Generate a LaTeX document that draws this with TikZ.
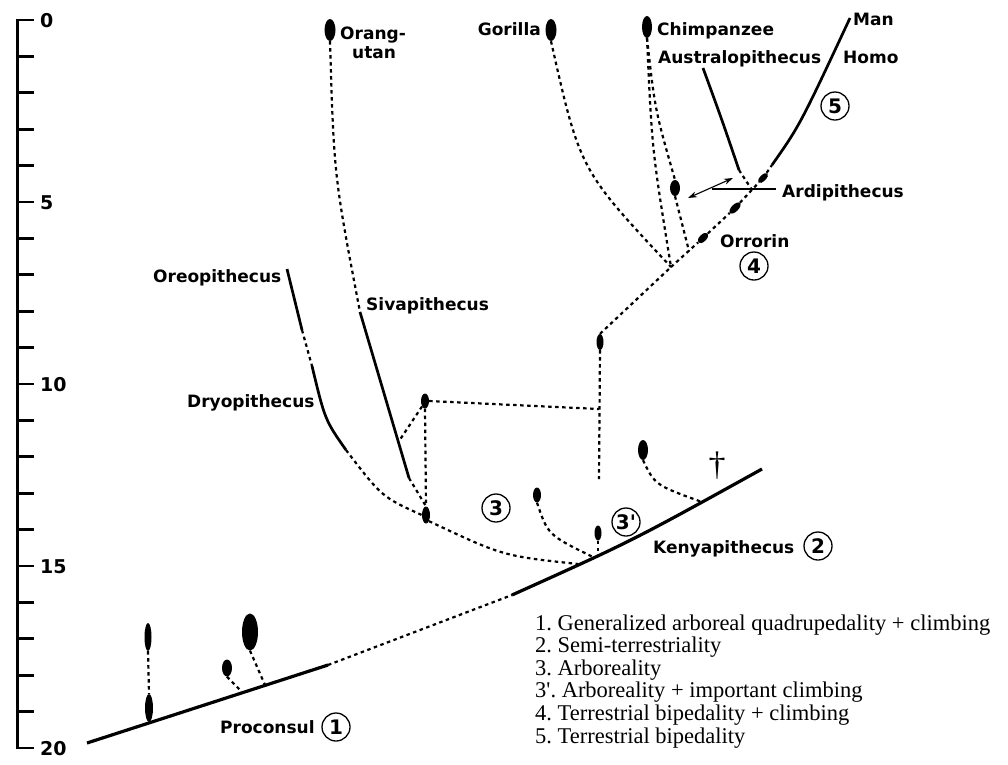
\documentclass[tikz,border=0pt]{standalone}
\usepackage{fontspec}
\setmainfont{Liberation Serif}
\newfontfamily\labfont{DejaVu Sans}
\usetikzlibrary{arrows.meta,shapes.geometric}
\frenchspacing
\begin{document}
\begin{tikzpicture}[x=1pt,y=-1pt,
  lab/.style={font=\labfont\bfseries\fontsize{17}{18}\selectfont, inner sep=0pt, anchor=base west},
  axlab/.style={font=\labfont\bfseries\fontsize{19}{20}\selectfont, inner sep=0pt, anchor=base west},
  num/.style={circle, draw, line width=1.3pt, minimum size=28pt, inner sep=0pt, font=\labfont\bfseries\fontsize{20}{20}\selectfont},
  oval/.style={ellipse, fill=black, draw=none, inner sep=0pt},
  dots/.style={line width=2.2pt, dash pattern=on 3.5pt off 3.5pt},
  lineage/.style={line width=2.7pt},
  stemline/.style={line width=3.2pt},
  axisl/.style={line width=2.8pt},
  legend/.style={font=\fontsize{22.5}{22}\selectfont, inner sep=0pt, anchor=base west},
]
\useasboundingbox (0,0) rectangle (1008,764);

% ---------- time axis ----------
\draw[axisl] (34,20) -- (17.5,20) -- (17.5,748) -- (34,748);
\foreach \t in {1,...,19} \draw[axisl] (17.5,{20+36.4*\t}) -- (34,{20+36.4*\t});
\node[axlab] (t0) at (40,27) {0};
\node[axlab] (t5) at (40,{27+36.4*5}) {5};
\node[axlab] (t10) at (40,{27+36.4*10}) {10};
\node[axlab] (t15) at (40,{27+36.4*15}) {15};
\node[axlab] (t20) at (40,755) {20};

% ---------- main stem ----------
\coordinate (s0) at (87,743);
\coordinate (s1) at (328,665);
\coordinate (s2) at (512,595);
\coordinate (s3) at (762,469);
\draw[stemline] (s0) -- (s1);
\draw[dots] (s1) -- (s2);
\draw[stemline] (s2) .. controls (632,541) .. (s3);

\coordinate (pC) at (242,692);
\coordinate (pD) at (265,685);
\coordinate (pDry) at (578,564);
\coordinate (p3) at (593,557);
\coordinate (p3p) at (598,555);
\coordinate (pDag) at (702,502);

% ---------- Proconsul group ----------
\node[oval, minimum width=7pt, minimum height=28pt] (oA) at (148,637) {};
\node[oval, minimum width=8pt, minimum height=28pt] (oB) at (149,708) {};
\node[oval, minimum width=10pt, minimum height=17pt] (oC) at (227,668) {};
\node[oval, minimum width=16pt, minimum height=37pt] (oD) at (250,632) {};
\draw[dots] (oA.south) -- (oB.north);
\draw[dots] (oC.south) -- (pC);
\draw[dots] (oD.south) -- (pD);
\node[lab] (proconsul) at (220,733) {Proconsul};
\node[num] (c1) at (336,727) {1};

% ---------- Kenyapithecus group ----------
\node[lab] (kenya) at (653,553) {Kenyapithecus};
\node[num] (c2) at (818,546) {2};
\node[oval, minimum width=8pt, minimum height=15pt] (o3) at (537,495) {};
\draw[dots] (o3.south) .. controls (548,535) .. (p3);
\node[oval, minimum width=7pt, minimum height=15pt] (o3p) at (598,533) {};
\draw[dots] (o3p.south) -- (p3p);
\node[oval, minimum width=10pt, minimum height=20pt] (oDag) at (643,450) {};
\draw[dots] (oDag.south) .. controls (655,485) .. (pDag);
\node[font=\fontsize{34}{34}\selectfont, inner sep=0pt] (dag) at (717,466) {\dag};
\node[num] (c3) at (496,508) {3};
\node[num] (c3p) at (626,522) {3\textquotesingle};

% ---------- Dryopithecus / Sivapithecus ----------
\node[oval, minimum width=8pt, minimum height=17pt] (oLow) at (426,515) {};
\node[oval, minimum width=8pt, minimum height=15pt] (oUp) at (425,401) {};
\coordinate (or1) at (287,269);
\coordinate (or2) at (302,330);
\coordinate (or3) at (312,366);
\coordinate (or4) at (346,450);
\draw[lineage] (or1) -- (or2);
\draw[dots] (or2) -- (or3);
\draw[lineage] (or3) .. controls (325,420) .. (or4);
\draw[dots] (or4) .. controls (382,497) .. (oLow.west);
\draw[dots] (oLow.south east) .. controls (503,556) .. (pDry);
\node[lab] (oreo) at (153,282) {Oreopithecus};
\node[lab] (dryo) at (187,407) {Dryopithecus};

\node[oval, minimum width=11pt, minimum height=22pt] (oOr) at (330,30) {};
\coordinate (sv1) at (360,312);
\coordinate (sv2) at (409,478);
\coordinate (svj) at (399,441);
\draw[dots] (oOr.south) .. controls (334,176) .. (sv1);
\draw[lineage] (sv1) -- (sv2);
\draw[dots] (sv2) -- (oLow.north);
\draw[dots] (oUp.south) -- (oLow.north);
\draw[dots] (oUp.south west) -- (svj);
\node[lab] (orang1) at (340,39) {Orang-};
\node[lab] (orang2) at (352,58) {utan};
\node[lab] (siva) at (366,310) {Sivapithecus};

% ---------- link to African branch ----------
\node[oval, minimum width=7pt, minimum height=16pt] (o86) at (600,342) {};
\coordinate (vj) at (599,409);
\coordinate (vb) at (599,479);
\draw[dots] (oUp.east) -- (vj);
\draw[dots] (o86.south) -- (vb);
\coordinate (J) at (671,267);
\draw[dots] (o86.north) -- (J);

% ---------- great apes and hominins ----------
\node[oval, minimum width=11pt, minimum height=22pt] (oGor) at (551,30) {};
\node[lab, anchor=base east] (gorilla) at (541,35) {Gorilla};
\draw[dots] (oGor.south) .. controls (580,170) .. (J);

\node[oval, minimum width=10pt, minimum height=22pt] (oCh) at (647,27) {};
\node[lab] (chimp) at (657,35) {Chimpanzee};
\node[oval, minimum width=10pt, minimum height=16pt] (oArdi) at (675,188) {};
\coordinate (aj) at (689,251);
\draw[dots] (oCh.south) .. controls (652,150) .. (J);
\draw[dots] (oCh.south) .. controls (655,110) .. (oArdi.north);
\draw[dots] (oArdi.south) -- (aj);

\node[oval, minimum width=7pt, minimum height=13pt, rotate=-45] (oOrr) at (703,238) {};
\node[oval, minimum width=7pt, minimum height=14pt, rotate=-45] (oH1) at (735,208) {};
\node[oval, minimum width=6pt, minimum height=13pt, rotate=-45] (oH2) at (763,178) {};
\coordinate (h0) at (772,165);
\coordinate (man) at (850,18);
\draw[dots] (J) -- (oOrr);
\draw[dots] (oOrr) -- (oH1);
\draw[dots] (oH1) -- (oH2);
\draw[dots] (oH2) -- (h0);
\draw[lineage] (h0) .. controls (800,125) .. (man);

\coordinate (au0) at (703,68);
\coordinate (au1) at (739,170);
\coordinate (au2) at (752,190);
\draw[lineage] (au0) .. controls (722,120) .. (au1);
\draw[dots] (au1) -- (au2);

\coordinate (ar0) at (712,189);
\coordinate (ar1) at (776,189);
\draw[line width=1.1pt] (ar0) -- (ar1);
\coordinate (aa) at (688,198);
\coordinate (ab) at (733,178);
\draw[line width=1.1pt, {Stealth[length=9pt,width=6pt]}-{Stealth[length=9pt,width=6pt]}] (aa) -- (ab);

\node[lab] (manl) at (853,25) {Man};
\node[lab] (austr) at (658,63) {Australopithecus};
\node[lab] (homo) at (843,63) {Homo};
\node[num] (c5) at (835,106) {5};
\node[lab] (ardi) at (782,197) {Ardipithecus};
\node[lab] (orrorin) at (720,247) {Orrorin};
\node[num] (c4) at (754,266) {4};

% ---------- legend ----------
\node[legend] (l1) at (535,630) {1. Generalized arboreal quadrupedality + climbing};
\node[legend] (l2) at (535,652.6) {2. Semi-terrestriality};
\node[legend] (l3) at (535,675.2) {3. Arboreality};
\node[legend] (l4) at (535,697.8) {3\textquotesingle. Arboreality + important climbing};
\node[legend] (l5) at (535,720.4) {4. Terrestrial bipedality + climbing};
\node[legend] (l6) at (535,743) {5. Terrestrial bipedality};
\end{tikzpicture}
\end{document}
